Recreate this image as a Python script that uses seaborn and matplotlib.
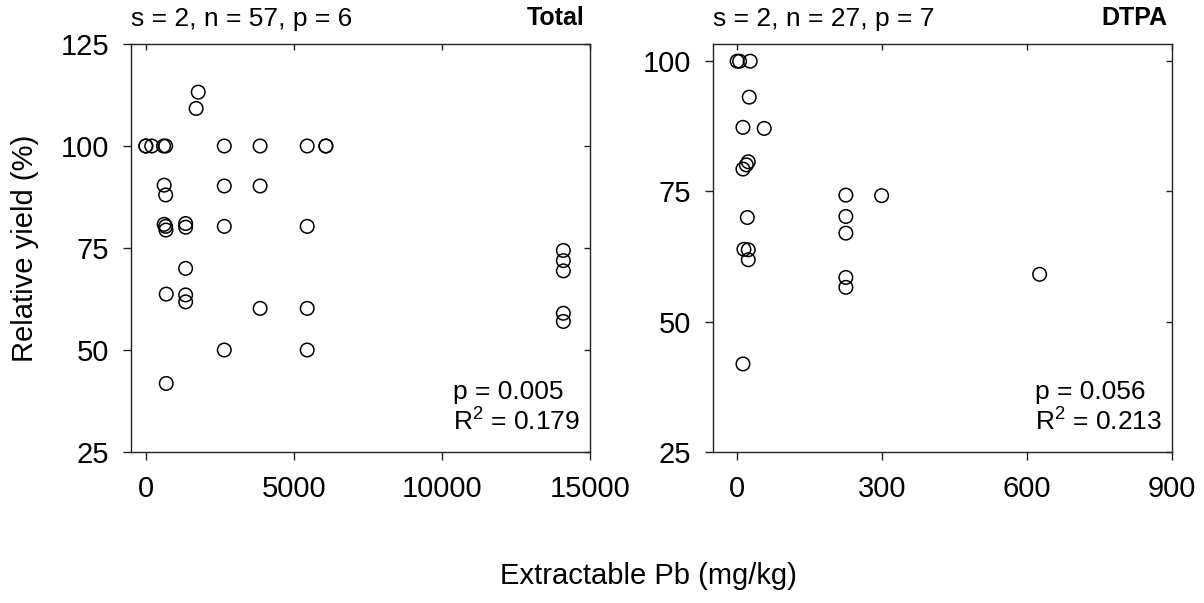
import matplotlib
matplotlib.use("Agg")
import matplotlib.pyplot as plt
import seaborn as sns
import pandas as pd

# ---- data ----
total_x = [0, 0, 200, 600, 670, 2650, 3860, 5450, 6080, 6080,
           1770, 1700,
           620, 2650, 3860, 670,
           620, 670, 680, 1345, 1345, 2650, 5450,
           1345, 690, 1345, 1345,
           3860, 5450, 2650, 5450, 690,
           14100, 14100, 14100, 14100, 14100]
total_y = [100, 100, 100, 100, 100, 100, 100, 100, 100, 100,
           113.2, 109.2,
           90.4, 90.2, 90.2, 88.0,
           80.8, 80.3, 79.4, 81.0, 80.1, 80.3, 80.3,
           70.0, 63.7, 63.5, 61.8,
           60.2, 60.2, 50.0, 50.0, 41.8,
           74.4, 71.9, 69.4, 59.0, 57.0]

dtpa_x = [0, 5, 27, 25, 12, 56, 23, 19, 12, 21, 14, 23, 23, 12,
          225, 299, 225, 225, 225, 225, 626]
dtpa_y = [100, 100, 100, 93.1, 87.3, 87.1, 80.7, 80.1, 79.3, 70.0, 63.9, 63.8, 61.9, 41.9,
          74.3, 74.2, 70.2, 67.0, 58.5, 56.6, 59.1]

panels = [
    dict(name="Total", x=total_x, y=total_y, info="s = 2, n = 57, p = 6",
         pval="p = 0.005", r2="R$^2$ = 0.179",
         xlim=(-500, 15000), xticks=[0, 5000, 10000, 15000],
         ylim=(25, 125), yticks=[25, 50, 75, 100, 125]),
    dict(name="DTPA", x=dtpa_x, y=dtpa_y, info="s = 2, n = 27, p = 7",
         pval="p = 0.056", r2="R$^2$ = 0.213",
         xlim=(-50, 900), xticks=[0, 300, 600, 900],
         ylim=(25, 103.3), yticks=[25, 50, 75, 100]),
]

sns.set_style("ticks")
plt.rcParams["font.family"] = ["Liberation Sans", "DejaVu Sans"]
plt.rcParams["mathtext.fontset"] = "custom"
plt.rcParams["mathtext.rm"] = "Liberation Sans"
plt.rcParams["mathtext.default"] = "regular"
plt.rcParams["text.color"] = "black"

fig = plt.figure(figsize=(12.04, 6.03), dpi=100)
lefts = [131 / 1204, 713 / 1204]
for p, left in zip(panels, lefts):
    ax = fig.add_axes([left, 1 - 452 / 603, 459 / 1204, 408 / 603])
    df = pd.DataFrame({"x": p["x"], "y": p["y"]})
    sns.scatterplot(data=df, x="x", y="y", ax=ax, marker="o", s=95,
                    facecolors="none", edgecolor="black", linewidth=1.1,
                    zorder=3)
    ax.set_xlim(*p["xlim"])
    ax.set_ylim(*p["ylim"])
    ax.set_xticks(p["xticks"])
    ax.set_yticks(p["yticks"])
    ax.set_xlabel("")
    ax.set_ylabel("")
    for s in ax.spines.values():
        s.set_visible(True)
        s.set_color("#222222")
        s.set_linewidth(1.0)
    ax.tick_params(axis="both", direction="out", length=5.5, width=1,
                   color="#222222", labelsize=21, labelcolor="black")
    ax.tick_params(axis="x", pad=11)
    ax.tick_params(axis="y", pad=10)
    # mirrored inward ticks on top and right
    top = ax.secondary_xaxis("top")
    top.set_xticks(p["xticks"])
    top.tick_params(direction="in", length=4.5, width=1, color="#222222",
                    labeltop=False)
    top.spines["top"].set_visible(False)
    right = ax.secondary_yaxis("right")
    right.set_yticks(p["yticks"])
    right.tick_params(direction="in", length=4.5, width=1, color="#222222",
                      labelright=False)
    right.spines["right"].set_visible(False)

    ax.text(0.0, 1.061, p["info"], transform=ax.transAxes, ha="left",
            va="center", fontsize=19)
    ax.text(0.989, 1.063, p["name"], transform=ax.transAxes, ha="right",
            va="center", fontsize=18, fontweight="bold")
    ax.text(0.7015, 0.147, p["pval"], transform=ax.transAxes, ha="left",
            va="center", fontsize=19)
    ax.text(0.7015, 0.0735, p["r2"], transform=ax.transAxes, ha="left",
            va="center", fontsize=19)

fig.text(25 / 1204, 1 - 248 / 603, "Relative yield (%)", rotation=90,
         ha="center", va="center", fontsize=21)
fig.text(648 / 1204, 1 - 576 / 603, "Extractable Pb (mg/kg)",
         ha="center", va="center", fontsize=21)

fig.savefig("out.png", dpi=100)
